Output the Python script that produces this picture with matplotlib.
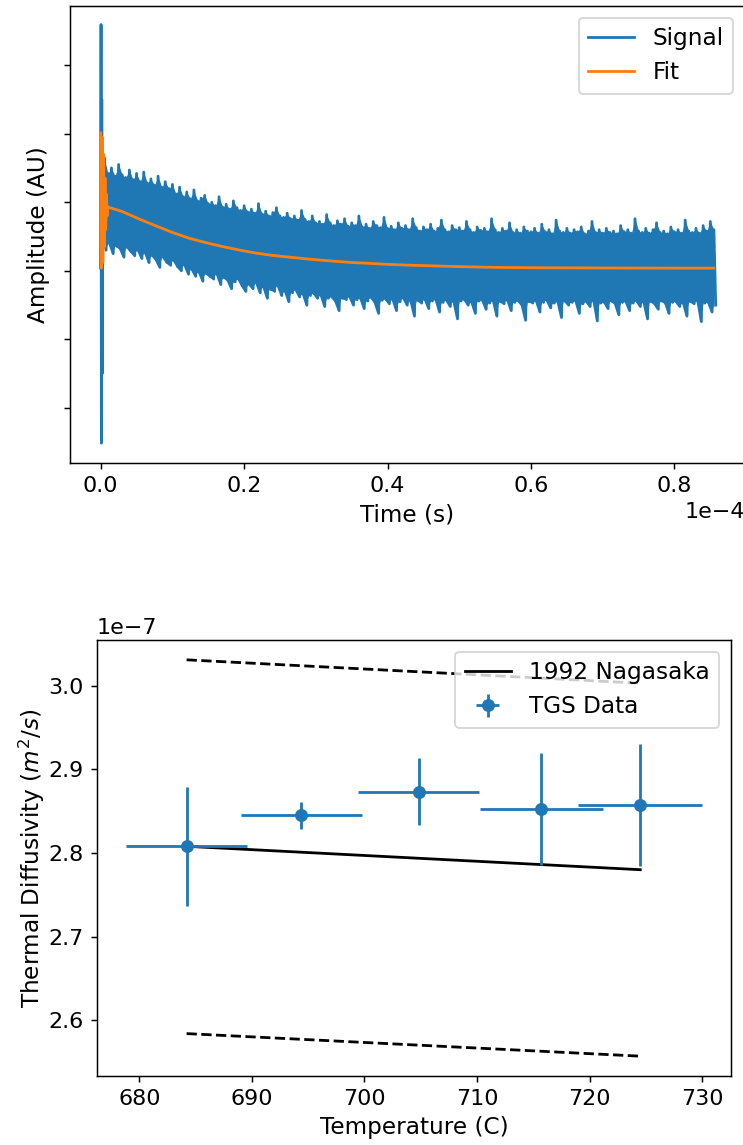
import numpy as np
import matplotlib.pyplot as plt

plt.rcParams['font.size'] = 12.5
plt.rcParams['xtick.labelsize'] = 12
plt.rcParams['ytick.labelsize'] = 12

# ---- top panel: TGS trace (time in 1e-4 s, amplitude arbitrary units) ----
# start of the trace: pump spike
spike_t = [0.0, 0.0005, 0.001, 0.0015, 0.002, 0.003, 0.004]
spike_amp = [0.04, 3.59, -2.51, 2.50, -1.50, 1.70, 0.35]

peak_amp = [
    1.65, 1.42, 1.50, 1.38, 1.55, 1.40, 1.36, 1.47, 1.33, 1.42,
    1.30, 1.44, 1.28, 1.34, 1.25, 1.38, 1.22, 1.30, 1.20, 1.26,
    1.12, 1.22, 1.08, 1.15, 1.05, 1.18, 1.02, 1.06, 1.10, 0.98,
    1.00, 0.95, 1.08, 0.93, 0.97, 0.90, 1.02, 0.92, 0.88, 0.95,
    0.86, 0.90, 0.84, 0.98, 0.83, 0.87, 0.80, 0.85, 0.92, 0.80,
    0.78, 0.84, 0.76, 0.80, 0.74, 0.88, 0.75, 0.72, 0.80, 0.70,
    0.72, 0.68, 0.82, 0.70, 0.66, 0.73, 0.68, 0.76, 0.65, 0.70,
    0.66, 0.80, 0.64, 0.68, 0.62, 0.72, 0.66, 0.63, 0.78, 0.62,
    0.65, 0.60, 0.70, 0.62, 0.66, 0.60, 0.76, 0.63, 0.58, 0.64,
    0.60, 0.68, 0.58, 0.62, 0.74, 0.60, 0.57, 0.66, 0.60, 0.63,
    0.58, 0.72, 0.60, 0.56, 0.64, 0.59, 0.62, 0.57, 0.76, 0.60,
    0.56, 0.62, 0.58, 0.70, 0.56, 0.60, 0.55, 0.64, 0.58, 0.57,
    0.62, 0.55, 0.68, 0.57, 0.60, 0.54, 0.74, 0.58, 0.56, 0.62,
    0.55, 0.60, 0.57, 0.64, 0.54, 0.58, 0.72, 0.56, 0.60, 0.55,
    0.62, 0.56, 0.58, 0.54, 0.66, 0.57, 0.60, 0.55, 0.76, 0.58,
    0.56, 0.62, 0.55, 0.60, 0.70, 0.56, 0.58, 0.54, 0.64, 0.57,
    0.60, 0.55, 0.74, 0.58, 0.56, 0.62, 0.55, 0.66, 0.58, 0.72,
    0.60,
]
trough_amp = [
    0.30, 0.40, 0.25, 0.36, 0.32, 0.20, 0.34, 0.28, 0.22, 0.30,
    0.18, 0.26, 0.12, 0.22, 0.16, 0.05, 0.20, 0.12, 0.08, 0.15,
    0.06, 0.00, 0.08, -0.05, 0.02, -0.08, -0.02, -0.15, -0.04, -0.08,
    -0.12, -0.05, -0.20, -0.10, -0.14, -0.26, -0.16, -0.12, -0.22, -0.30,
    -0.20, -0.26, -0.18, -0.32, -0.24, -0.40, -0.27, -0.30, -0.22, -0.36,
    -0.30, -0.45, -0.32, -0.28, -0.38, -0.34, -0.50, -0.36, -0.33, -0.40,
    -0.36, -0.52, -0.40, -0.38, -0.44, -0.58, -0.40, -0.42, -0.38, -0.50,
    -0.42, -0.40, -0.55, -0.44, -0.39, -0.46, -0.62, -0.43, -0.41, -0.48,
    -0.42, -0.58, -0.45, -0.40, -0.50, -0.44, -0.66, -0.43, -0.47, -0.42,
    -0.55, -0.44, -0.42, -0.60, -0.46, -0.43, -0.52, -0.45, -0.70, -0.44,
    -0.42, -0.50, -0.46, -0.62, -0.44, -0.43, -0.56, -0.47, -0.44, -0.66,
    -0.45, -0.48, -0.43, -0.58, -0.46, -0.44, -0.50, -0.72, -0.45, -0.47,
    -0.44, -0.60, -0.46, -0.43, -0.54, -0.47, -0.45, -0.68, -0.44, -0.50,
    -0.46, -0.44, -0.62, -0.48, -0.45, -0.52, -0.44, -0.73, -0.47, -0.46,
    -0.55, -0.44, -0.48, -0.64, -0.46, -0.45, -0.58, -0.47, -0.44, -0.52,
    -0.46, -0.70, -0.45, -0.48, -0.56, -0.44, -0.47, -0.62, -0.46, -0.45,
    -0.52, -0.47, -0.66, -0.45, -0.48, -0.44, -0.74, -0.47, -0.46, -0.60,
    -0.50,
]

# fitted curve
fit_t = [0.000, 0.001, 0.002, 0.003, 0.004, 0.005, 0.006, 0.007, 0.008, 0.009,
         0.010, 0.030, 0.055, 0.077, 0.100, 0.123, 0.147, 0.170, 0.195, 0.217,
         0.240, 0.263, 0.290, 0.320, 0.350, 0.370, 0.400, 0.430, 0.463, 0.500,
         0.556, 0.600, 0.650, 0.700, 0.750, 0.800, 0.855]
fit_amp = [2.01, 0.04, 1.95, 0.12, 1.70, 0.35, 1.35, 0.60, 1.12, 0.80,
           0.93, 0.865, 0.75, 0.656, 0.56, 0.477, 0.41, 0.354, 0.30, 0.258,
           0.225, 0.200, 0.172, 0.145, 0.122, 0.112, 0.095, 0.083, 0.073, 0.062,
           0.050, 0.046, 0.044, 0.042, 0.041, 0.040, 0.040]

# ---- bottom panel: thermal diffusivity (1e-7 m^2/s) ----
temps = [684.2, 694.4, 704.8, 715.7, 724.5]
temp_err = [5.4, 5.4, 5.4, 5.45, 5.5]
diffus = [2.808, 2.845, 2.873, 2.853, 2.857]
diffus_err = [0.071, 0.016, 0.040, 0.067, 0.073]

nag_temps = [684.2, 724.5]
nag_mid = [2.808, 2.780]
nag_hi = [3.031, 3.003]
nag_lo = [2.584, 2.557]

# build the interleaved trace
t_pk = np.linspace(0.005, 0.855, len(peak_amp))
sig_t = np.empty(2 * len(peak_amp))
sig_a = np.empty(2 * len(peak_amp))
sig_t[0::2] = t_pk
sig_t[1::2] = t_pk + 0.0025
sig_a[0::2] = peak_amp
sig_a[1::2] = trough_amp
sig_t = np.concatenate([spike_t, sig_t]) * 1e-4
sig_a = np.concatenate([spike_amp, sig_a])

fig = plt.figure(figsize=(743 / 133.333, 1145 / 133.333))

ax1 = fig.add_axes([70 / 743, 1 - 463 / 1145, 674.6 / 743, 457 / 1145])
# dense trace: shade between the read maxima and minima, then the trace itself
ax1.fill_between(t_pk * 1e-4, trough_amp, peak_amp, color="C0", lw=0)
ax1.plot(sig_t, sig_a, color="C0", label="Signal")
ax1.plot(np.array(fit_t) * 1e-4, fit_amp, color="C1", label="Fit")
ax1.set_xlim(-0.0428e-4, 0.8978e-4)
ax1.set_ylim(-2.80, 3.86)
ax1.set_yticks([-2, -1, 0, 1, 2, 3])
ax1.set_yticklabels([])
ax1.ticklabel_format(axis="x", style="sci", scilimits=(-4, -4))
ax1.set_xlabel("Time (s)")
ax1.set_ylabel("Amplitude (AU)")
ax1.legend(loc="upper right")

ax2 = fig.add_axes([97 / 743, 1 - 1076 / 1145, 634 / 743, 436 / 1145])
ax2.plot(nag_temps, np.array(nag_mid) * 1e-7, color="k", label="1992 Nagasaka")
ax2.plot(nag_temps, np.array(nag_hi) * 1e-7, color="k", linestyle="--")
ax2.plot(nag_temps, np.array(nag_lo) * 1e-7, color="k", linestyle="--")
ax2.errorbar(temps, np.array(diffus) * 1e-7, xerr=temp_err,
             yerr=np.array(diffus_err) * 1e-7, fmt="o", label="TGS Data")
ax2.set_xlabel("Temperature (C)")
ax2.set_ylabel("Thermal Diffusivity ($m^2/s$)", labelpad=1)
ax2.legend(loc="upper right")

fig.savefig("out.png", dpi=133.333)
